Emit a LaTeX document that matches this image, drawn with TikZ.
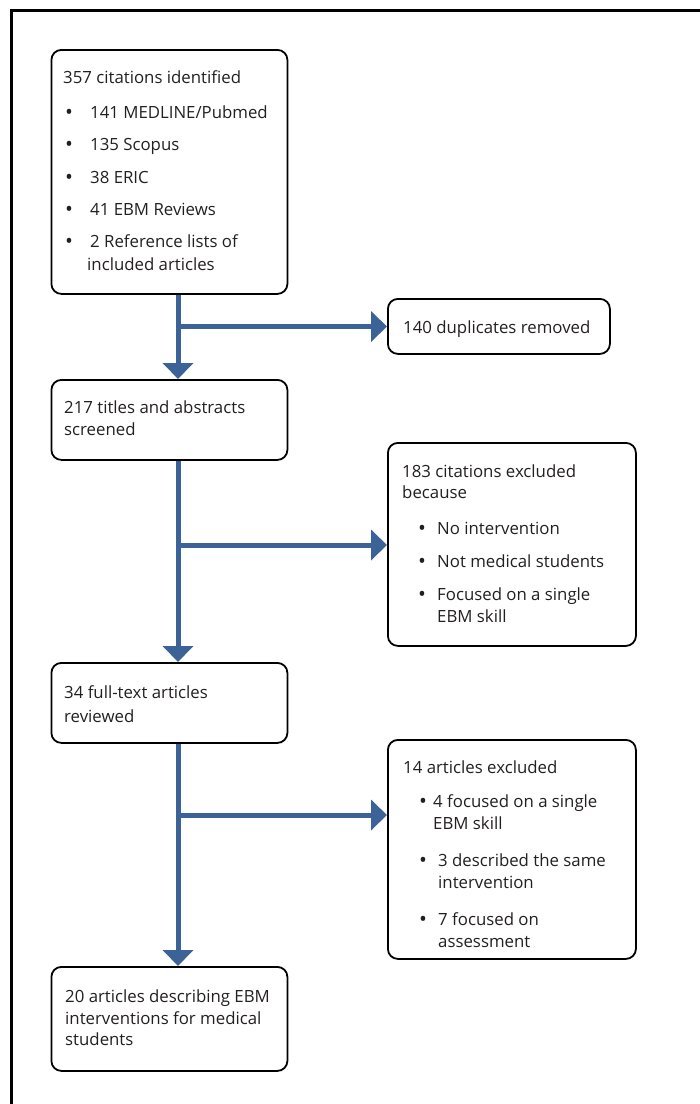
\documentclass[tikz,border=0pt]{standalone}
\usepackage{fontspec}
\setmainfont{Open Sans}
\usetikzlibrary{arrows.meta}
\definecolor{flowblue}{RGB}{59,99,151}
\definecolor{txtcol}{RGB}{35,31,32}
\begin{document}
\begin{tikzpicture}[x=1pt,y=-1pt,
  box/.style={draw=black, line width=1.8pt, rounded corners=10pt, anchor=north west, inner sep=0pt},
  txt/.style={anchor=base west, inner sep=0pt, text=txtcol, font=\fontsize{16.8}{20}\selectfont},
  bul/.style={anchor=base west, inner sep=0pt, text=txtcol, font=\fontsize{21}{21}\selectfont},
  flow/.style={draw=flowblue, line width=5pt, -{Triangle[width=30pt,length=16pt]}}]
\useasboundingbox (0,0) rectangle (700,1104);
% frame
\draw[line width=2.2pt] (700,10.5) -- (11.5,10.5) -- (11.5,1104);
% boxes
\node[box, minimum width=236pt, minimum height=244pt] (b1) at (50.5,49) {};
\node[box, minimum width=222pt, minimum height=55pt]  (b2) at (387,298) {};
\node[box, minimum width=236pt, minimum height=80pt]  (b3) at (50.5,379) {};
\node[box, minimum width=248pt, minimum height=203pt] (b4) at (387,442) {};
\node[box, minimum width=236pt, minimum height=80pt]  (b5) at (50.5,662) {};
\node[box, minimum width=248pt, minimum height=219pt] (b6) at (387,739) {};
\node[box, minimum width=236pt, minimum height=104pt] (b7) at (50.5,966) {};
% trunk coordinates
\coordinate (tx) at (178,0);
\coordinate (j1) at (178,326.5);
\coordinate (j2) at (178,545);
\coordinate (j3) at (178,815);
% connectors
\draw[flow] (b1.south -| tx) -- (b3.north -| tx);
\draw[flow] (j1) -- (j1 -| b2.west);
\draw[flow] (b3.south -| tx) -- (b5.north -| tx);
\draw[flow] (j2) -- (j2 -| b4.west);
\draw[flow] (b5.south -| tx) -- (b7.north -| tx);
\draw[flow] (j3) -- (j3 -| b6.west);
% box 1 text
\node[txt] (t1a) at (63,83) {357 citations identified};
\node[bul] (t1b) at (65,119) {•};
\node[txt] (t1c) at (90,118) {141 MEDLINE/Pubmed};
\node[bul] (t1d) at (65,151) {•};
\node[txt] (t1e) at (90,150) {135 Scopus};
\node[bul] (t1f) at (65,184) {•};
\node[txt] (t1g) at (90,183) {38 ERIC};
\node[bul] (t1h) at (65,216) {•};
\node[txt] (t1i) at (90,215) {41 EBM Reviews};
\node[bul] (t1j) at (65,248) {•};
\node[txt] (t1k) at (90,247) {2 Reference lists of};
\node[txt] (t1l) at (87,270) {included articles};
% box 2 text
\node[txt] (t2a) at (403,333) {140 duplicates removed};
% box 3 text
\node[txt] (t3a) at (64,413) {217 titles and abstracts};
\node[txt] (t3b) at (64,435) {screened};
% box 4 text
\node[txt] (t4a) at (402,477) {183 citations excluded};
\node[txt] (t4b) at (402,498) {because};
\node[bul] (t4c) at (418,535) {•};
\node[txt] (t4d) at (437,534) {No intervention};
\node[bul] (t4e) at (418,568) {•};
\node[txt] (t4f) at (437,567) {Not medical students};
\node[bul] (t4g) at (418,601) {•};
\node[txt] (t4h) at (437,600) {Focused on a single};
\node[txt] (t4i) at (437,622) {EBM skill};
% box 5 text
\node[txt] (t5a) at (64,698) {34 full-text articles};
\node[txt] (t5b) at (64,722) {reviewed};
% box 6 text
\node[txt] (t6a) at (403,773) {14 articles excluded};
\node[bul] (t6b) at (419,808) {•};
\node[txt] (t6c) at (433,807) {4 focused on a single};
\node[txt] (t6d) at (433,829) {EBM skill};
\node[bul] (t6e) at (419,867) {•};
\node[txt] (t6f) at (438,866) {3 described the same};
\node[txt] (t6g) at (438,888) {intervention};
\node[bul] (t6h) at (419,926) {•};
\node[txt] (t6i) at (438,925) {7 focused on};
\node[txt] (t6j) at (438,947) {assessment};
% box 7 text
\node[txt] (t7a) at (65,1002) {20 articles describing EBM};
\node[txt] (t7b) at (65,1024) {interventions for medical};
\node[txt] (t7c) at (65,1045) {students};
\end{tikzpicture}
\end{document}
